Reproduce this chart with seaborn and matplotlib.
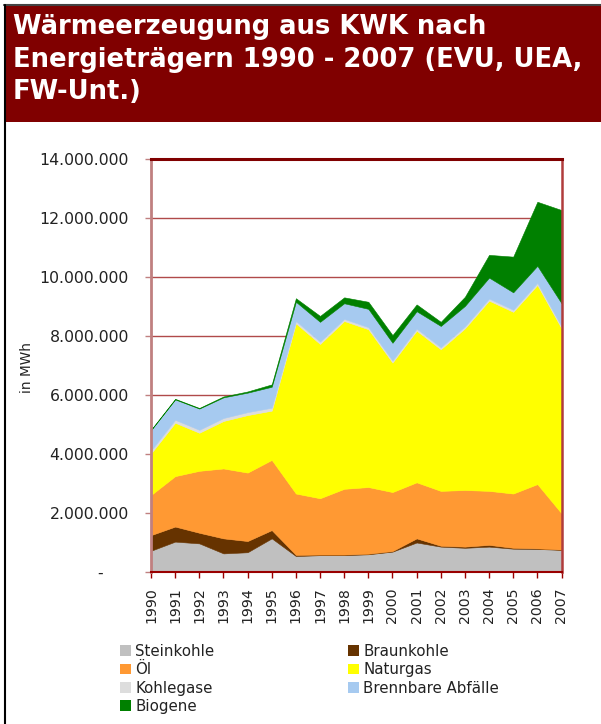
import matplotlib
matplotlib.use("Agg")
import matplotlib.pyplot as plt
from matplotlib.patches import Rectangle, Patch
from matplotlib.lines import Line2D
from matplotlib.ticker import FuncFormatter
import seaborn as sns

# Heat generation from CHP by energy carrier, MWh per year
years = list(range(1990, 2008))
steinkohle = [720000, 1030000, 970000, 630000, 670000, 1140000, 540000, 570000, 570000,
              600000, 690000, 1000000, 860000, 820000, 860000, 790000, 780000, 750000]
braunkohle = [530000, 510000, 360000, 510000, 380000, 280000, 40000, 20000, 20000,
              20000, 20000, 140000, 30000, 40000, 60000, 30000, 20000, 10000]
oel = [1360000, 1710000, 2100000, 2370000, 2320000, 2380000, 2080000, 1910000, 2230000,
       2260000, 2000000, 1900000, 1860000, 1920000, 1830000, 1840000, 2180000, 1230000]
naturgas = [1410000, 1810000, 1290000, 1610000, 1950000, 1670000, 5770000, 5230000, 5690000,
            5350000, 4390000, 5140000, 4800000, 5480000, 6450000, 6160000, 6750000, 6270000]
kohlegase = [100000, 100000, 100000, 100000, 100000, 100000, 80000, 80000, 70000,
             70000, 70000, 70000, 70000, 70000, 70000, 70000, 70000, 70000]
abfaelle = [690000, 690000, 720000, 700000, 660000, 710000, 650000, 670000, 530000,
            620000, 600000, 590000, 720000, 690000, 710000, 590000, 580000, 780000]
biogene = [10000, 20000, 20000, 30000, 40000, 80000, 120000, 200000, 200000,
           240000, 260000, 230000, 140000, 310000, 770000, 1210000, 2170000, 3160000]

labels = ["Steinkohle", "Braunkohle", "Öl", "Naturgas", "Kohlegase",
          "Brennbare Abfälle", "Biogene"]
series = [steinkohle, braunkohle, oel, naturgas, kohlegase, abfaelle, biogene]
colors = ["#c0c0c0", "#663300", "#ff9933", "#ffff00", "#dddddd", "#a6caf0", "#008000"]

title_lines = ["Wärmeerzeugung aus KWK nach",
               "Energieträgern 1990 - 2007 (EVU, UEA,",
               "FW-Unt.)"]
y_ticks = list(range(0, 14000001, 2000000))

sns.set_theme(style="white")
palette = sns.color_palette(colors)
plt.rcParams["font.family"] = ["DejaVu Sans"]

W, H = 601, 724
fig = plt.figure(figsize=(W / 100, H / 100), dpi=100)
fig.patch.set_facecolor("white")

def fx(px):
    return px / W

def fy(py):
    return 1 - py / H

# Title banner
fig.patches.append(Rectangle((fx(5), fy(122)), 1 - fx(5), (122 - 6) / H,
                             transform=fig.transFigure, facecolor="#800000",
                             edgecolor="none", zorder=0))
fig.lines.append(Line2D([fx(4), 1], [fy(5), fy(5)], transform=fig.transFigure,
                        color="#444444", lw=1.5))
fig.lines.append(Line2D([fx(5), fx(5)], [fy(5), 0], transform=fig.transFigure,
                        color="#000000", lw=1.5))
for i, line in enumerate(title_lines):
    fig.text(fx(13), fy(34 + i * 32.7), line, color="white", fontsize=18.6,
             fontweight="bold", ha="left", va="baseline")

# Plot area
ax = fig.add_axes([fx(151), fy(572), (561.5 - 151) / W, (572 - 159) / H])
ax.set_facecolor("white")
ax.stackplot(years, *series, colors=palette, labels=labels,
             linewidth=0.4, edgecolor="face", zorder=2)

ax.set_xlim(1990, 2007)
ax.set_ylim(0, 14000000)
ax.set_xticks(years)
ax.set_xticklabels([str(y) for y in years], rotation=90, fontsize=10.2, color="#222222")
ax.set_yticks(y_ticks)

def de_fmt(v, pos):
    if v == 0:
        return "-     "
    return f"{v:,.0f}".replace(",", ".")

ax.yaxis.set_major_formatter(FuncFormatter(de_fmt))
ax.tick_params(axis="y", labelsize=11.3, labelcolor="#222222", length=4,
               width=1, color="#c08080", pad=12, left=True, direction="out")
ax.tick_params(axis="x", length=4, width=1, color="#990000", pad=7,
               bottom=True, direction="out")

ax.grid(axis="y", color="#b04a4a", lw=1)
ax.grid(axis="x", visible=False)
ax.set_axisbelow(True)

for side, col, lw in [("left", "#c08080", 2), ("top", "#800000", 2.2),
                      ("right", "#b03c3c", 1.8), ("bottom", "#990000", 1.5)]:
    ax.spines[side].set_visible(True)
    ax.spines[side].set_color(col)
    ax.spines[side].set_linewidth(lw)
    ax.spines[side].set_zorder(3)

ax.set_ylabel("in MWh", fontsize=9.8, color="#222222")
ax.yaxis.set_label_coords(-0.285, 0.496)

# Legend in two columns
handles = [Patch(facecolor=c, edgecolor="none") for c in colors]
order1 = [0, 2, 4, 6]
order2 = [1, 3, 5]
common = dict(frameon=False, fontsize=10.8, handlelength=0.72, handleheight=0.72,
              handletextpad=0.3, labelspacing=0.22, borderpad=0, borderaxespad=0,
              loc="upper left", bbox_transform=fig.transFigure)
leg1 = fig.legend([handles[i] for i in order1], [labels[i] for i in order1],
                  bbox_to_anchor=(fx(120), fy(644)), **common)
leg2 = fig.legend([handles[i] for i in order2], [labels[i] for i in order2],
                  bbox_to_anchor=(fx(348), fy(644)), **common)
for leg in (leg1, leg2):
    for t in leg.get_texts():
        t.set_color("#222222")

fig.savefig("out.png", dpi=100)
